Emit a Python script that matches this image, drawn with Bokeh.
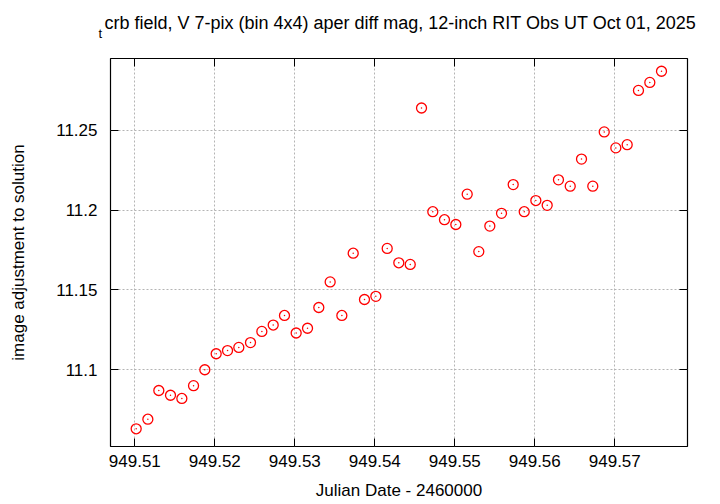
from bokeh.plotting import figure
from bokeh.models import Range1d, FixedTicker, LinearAxis, Title
from bokeh.embed import file_html
from bokeh.resources import INLINE

jd = [949.51017, 949.51163, 949.51300, 949.51446, 949.51588, 949.51734, 949.51875,
      949.52017, 949.52159, 949.52300, 949.52446, 949.52588, 949.52730, 949.52871,
      949.53017, 949.53159, 949.53300, 949.53442, 949.53588, 949.53730, 949.53871,
      949.54013, 949.54155, 949.54300, 949.54443, 949.54584, 949.54725, 949.54871,
      949.55013, 949.55155, 949.55300, 949.55438, 949.55584, 949.55730, 949.55868,
      949.56013, 949.56155, 949.56296, 949.56443, 949.56584, 949.56725, 949.56868,
      949.57013, 949.57155, 949.57296, 949.57438, 949.57584]
mag = [11.063, 11.069, 11.087, 11.084, 11.082, 11.090, 11.100,
       11.110, 11.112, 11.114, 11.117, 11.124, 11.128, 11.134,
       11.123, 11.126, 11.139, 11.155, 11.134, 11.173, 11.144,
       11.146, 11.176, 11.167, 11.166, 11.264, 11.199, 11.194,
       11.191, 11.210, 11.174, 11.190, 11.198, 11.216, 11.199,
       11.206, 11.203, 11.219, 11.215, 11.232, 11.215, 11.249,
       11.239, 11.241, 11.275, 11.280, 11.287]

x_ticks = [949.51, 949.52, 949.53, 949.54, 949.55, 949.56, 949.57]
x_tick_labels = ["949.51", "949.52", "949.53", "949.54", "949.55", "949.56", "949.57"]
y_ticks = [11.1, 11.15, 11.2, 11.25]
y_tick_labels = ["11.1", "11.15", "11.2", "11.25"]

title_sub = "t"
title_main = "crb field, V 7-pix (bin 4x4) aper diff mag,  12-inch RIT Obs UT Oct 01, 2025"
x_label = "Julian Date - 2460000"
y_label = "image adjustment to solution"

FONT = "Liberation Sans"
W, H = 720, 504
FL, FR, FT, FB = 110, 687, 58, 446   # frame edges in page pixels

p = figure(width=W, height=H, output_backend="svg", toolbar_location=None, title=None,
           x_range=Range1d(949.50696, 949.57909), y_range=Range1d(11.0519, 11.295),
           min_border_left=FL, min_border_right=W - FR,
           min_border_top=FT, min_border_bottom=H - FB)

p.outline_line_color = "black"
p.outline_line_width = 1.2

xt = FixedTicker(ticks=x_ticks)
yt = FixedTicker(ticks=y_ticks)

def style_axis(ax, ticker, labels, ticks, show_labels=True):
    ax.ticker = ticker
    ax.axis_line_color = None
    ax.major_tick_in = 8
    ax.major_tick_out = 0
    ax.minor_tick_line_color = None
    ax.major_tick_line_color = "black"
    ax.major_label_text_font = FONT
    ax.major_label_text_font_size = "17px"
    ax.major_label_text_color = "black"
    ax.major_label_overrides = {t: l for t, l in zip(ticks, labels)}
    if not show_labels:
        ax.major_label_text_font_size = "0px"

xa = p.xaxis[0]
ya = p.yaxis[0]
style_axis(xa, xt, x_tick_labels, x_ticks)
style_axis(ya, yt, y_tick_labels, y_ticks)
xa.major_label_standoff = 8
ya.major_label_standoff = 13
xa.axis_label = x_label
ya.axis_label = y_label
for ax in (xa, ya):
    ax.axis_label_text_font = FONT
    ax.axis_label_text_font_size = "17px"
    ax.axis_label_text_font_style = "normal"
    ax.axis_label_text_color = "black"
xa.axis_label_standoff = 11
ya.axis_label_standoff = 25

top = LinearAxis()
right = LinearAxis()
style_axis(top, xt, x_tick_labels, x_ticks, show_labels=False)
style_axis(right, yt, y_tick_labels, y_ticks, show_labels=False)
top.major_label_standoff = 0
right.major_label_standoff = 0

# title: the subscript "t" sits just above the frame, the main text above it
t_sub = Title(text=title_sub, align="left", offset=98 - FL, standoff=35,
              text_font=FONT, text_font_size="13px", text_font_style="normal",
              text_color="black")
t_main = Title(text=title_main, align="left", offset=104 - FL, standoff=-53,
               text_font=FONT, text_font_size="18px", text_font_style="normal",
               text_color="black")
p.above = [top, t_sub, t_main]
p.add_layout(right, "right")

p.xgrid.ticker = xt
p.ygrid.ticker = yt
for g in (p.xgrid, p.ygrid):
    g.grid_line_color = "#b4b4b4"
    g.grid_line_dash = "2 2"
    g.grid_line_width = 1

p.scatter(jd, mag, marker="circle", size=10, fill_color=None,
          line_color="#ff0000", line_width=1.3)
p.scatter(jd, mag, marker="circle", size=1.5, fill_color="#ff0000",
          line_color=None)

open("out.html", "w").write(file_html(p, INLINE))
